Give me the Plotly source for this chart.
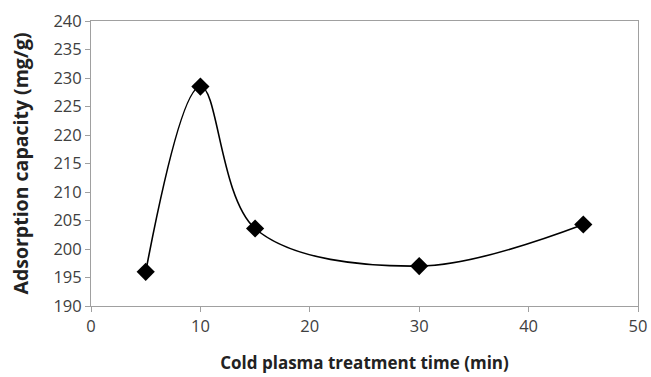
import plotly.graph_objects as go

time_min = [5, 10, 15, 30, 45]
capacity = [196.0, 228.5, 203.6, 197.0, 204.3]
x_ticks = [0, 10, 20, 30, 40, 50]
y_ticks = [190, 195, 200, 205, 210, 215, 220, 225, 230, 235, 240]

fig = go.Figure()
fig.add_trace(go.Scatter(
    x=time_min, y=capacity, mode="lines+markers",
    line=dict(color="black", width=1.6, shape="spline", smoothing=1.0),
    marker=dict(symbol="diamond", size=14, color="black"),
    showlegend=False,
))
fig.update_layout(
    width=651, height=377,
    margin=dict(l=91, r=13, t=21, b=71),
    paper_bgcolor="white", plot_bgcolor="white",
    font=dict(family="Open Sans, Liberation Sans, sans-serif", color="#333333"),
)
fig.update_xaxes(
    range=[0, 50], tickvals=x_ticks, showgrid=False, zeroline=False,
    showline=True, linecolor="#a0a0a0", linewidth=1, mirror=True,
    ticks="outside", tickcolor="#a0a0a0", ticklen=5,
    tickfont=dict(size=16.5, color="#404040"), automargin=False,
    title=dict(text="<b>Cold plasma treatment time (min)</b>", font=dict(size=17, color="#222222"), standoff=21),
)
fig.update_yaxes(
    range=[190, 240], tickvals=y_ticks, showgrid=False, zeroline=False,
    showline=True, linecolor="#a0a0a0", linewidth=1, mirror=True,
    ticks="outside", tickcolor="#a0a0a0", ticklen=5,
    tickfont=dict(size=16.5, color="#404040"), automargin=False,
    title=dict(text="<b>Adsorption capacity (mg/g)</b>", font=dict(size=19.5, color="#222222"), standoff=19),
)
fig.write_html(
    "out.html",
    config={"displayModeBar": False},
    post_script="document.body.style.margin='0';document.body.style.overflow='hidden';",
)
